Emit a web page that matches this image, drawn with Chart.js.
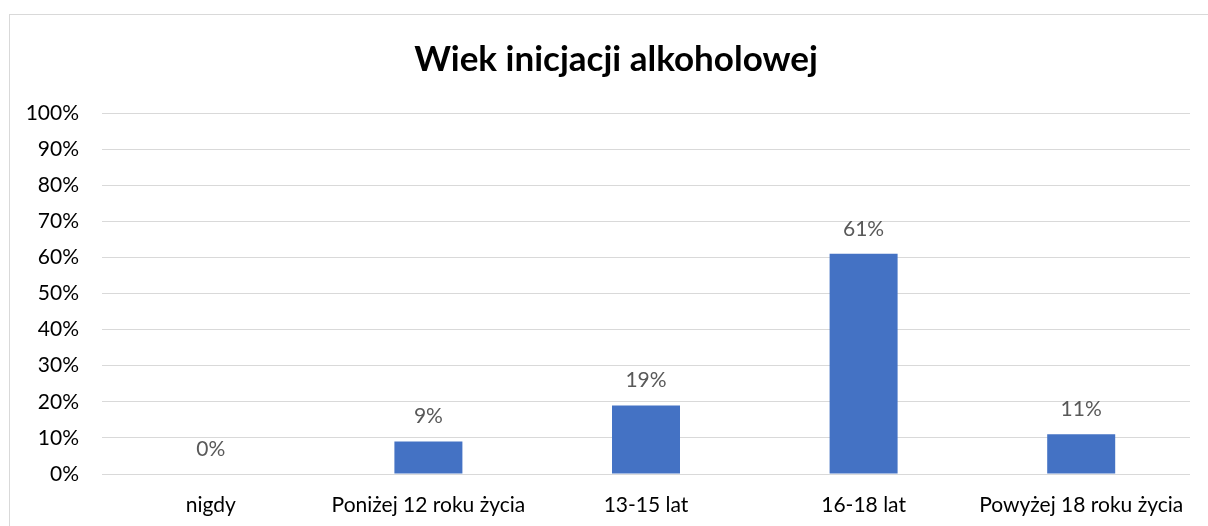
<!DOCTYPE html>
<html>
<head>
<meta charset="utf-8">
<script src="https://cdn.jsdelivr.net/npm/chart.js@4/dist/chart.umd.min.js"></script>
<style>
html,body{margin:0;padding:0;background:#fff;}
#wrap{position:relative;width:1208px;height:526px;}
</style>
</head>
<body>
<div id="wrap"><canvas id="c" width="1208" height="526"></canvas></div>
<script>
const categories = ["nigdy", "Poniżej 12 roku życia", "13-15 lat", "16-18 lat", "Powyżej 18 roku życia"];
const values = [0, 9, 19, 61, 11];
const yTicks = [0, 10, 20, 30, 40, 50, 60, 70, 80, 90, 100];
const titleText = "Wiek inicjacji alkoholowej";

const FONT = "Lato, 'Open Sans', sans-serif";

const frame = {
  id: 'frame',
  beforeDraw(chart) {
    const ctx = chart.ctx;
    ctx.save();
    ctx.fillStyle = '#fff';
    ctx.fillRect(0, 0, chart.width, chart.height);
    ctx.strokeStyle = '#d9d9d9';
    ctx.lineWidth = 1;
    ctx.strokeRect(9.5, 14.5, 1300, 600);
    ctx.fillStyle = '#000';
    ctx.font = "bold 35px " + FONT;
    ctx.textAlign = 'center';
    ctx.textBaseline = 'middle';
    ctx.fillText(titleText, 616, 60);
    ctx.restore();
  }
};

const labels = {
  id: 'labels',
  afterDatasetsDraw(chart) {
    const ctx = chart.ctx;
    const meta = chart.getDatasetMeta(0);
    ctx.save();
    ctx.font = "21px " + FONT;
    ctx.fillStyle = '#595959';
    ctx.textAlign = 'center';
    ctx.textBaseline = 'middle';
    meta.data.forEach((bar, i) => {
      ctx.fillText(values[i] + '%', bar.x, bar.y - 25);
    });
    ctx.restore();
  }
};

new Chart(document.getElementById('c'), {
  type: 'bar',
  data: {
    labels: categories,
    datasets: [{
      data: values,
      backgroundColor: '#4472c4',
      borderWidth: 0,
      categoryPercentage: 1,
      barPercentage: 0.3125
    }]
  },
  options: {
    responsive: false,
    animation: false,
    devicePixelRatio: 1,
    layout: { padding: { left: 0, right: 18, top: 113, bottom: 0 } },
    plugins: {
      legend: { display: false },
      tooltip: { enabled: false },
      title: { display: false }
    },
    scales: {
      x: {
        grid: { display: false, drawTicks: false },
        border: { display: false },
        ticks: { color: '#000', font: { family: FONT, size: 21 }, padding: 19, maxRotation: 0, autoSkip: false },
        afterFit(s) { s.height = 52; }
      },
      y: {
        min: 0, max: 100,
        afterBuildTicks(s) { s.ticks = yTicks.map(v => ({ value: v })); },
        grid: { color: '#d9d9d9', lineWidth: 1, drawTicks: false },
        border: { display: false },
        ticks: { color: '#000', font: { family: FONT, size: 21 }, padding: 23, callback: v => v + '%' },
        afterFit(s) { s.width = 102; }
      }
    }
  },
  plugins: [frame, labels]
});
</script>
</body>
</html>
